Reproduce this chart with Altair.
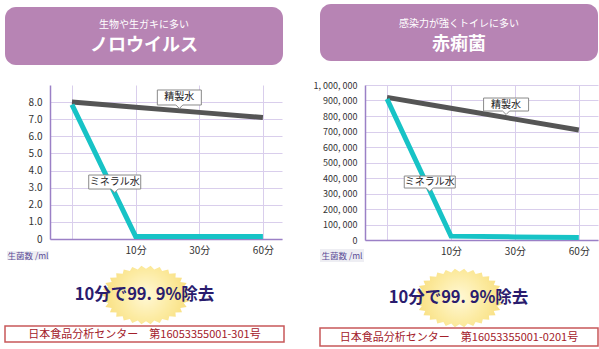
import json
import numpy as np
import pandas as pd
import altair as alt

# ---------------- data ----------------
x_pos = [0, 1, 2, 3]
x_labels = ["", "10分", "30分", "60分"]
series_names = ["精製水", "ミネラル水"]

noro_purified = [8.0, 7.7, 7.4, 7.1]
noro_mineral = [7.85, 0.15, 0.15, 0.15]
noro_y_ticks = [0, 1, 2, 3, 4, 5, 6, 7, 8]
noro_y_labels = ["0", "1.0", "2.0", "3.0", "4.0", "5.0", "6.0", "7.0", "8.0"]

shig_purified = [920000, 850000, 780000, 710000]
shig_mineral = [910000, 25000, 20000, 16000]
shig_y_ticks = [0, 100000, 200000, 300000, 400000, 500000,
                600000, 700000, 800000, 900000, 1000000]
shig_y_labels = ["0", "100, 000", "200, 000", "300, 000", "400, 000", "500, 000",
                 "600, 000", "700, 000", "800, 000", "900, 000", "1, 000, 000"]

noro_sub = "生物や生ガキに多い"
noro_title = "ノロウイルス"
shig_sub = "感染力が強くトイレに多い"
shig_title = "赤痢菌"
claim_text = "10分で99. 9%除去"
noro_cert = "日本食品分析センター　第16053355001-301号"
shig_cert = "日本食品分析センター　第16053355001-0201号"
unit_text = "生菌数 /ml"

# ---------------- style ----------------
FONT = "Noto Sans CJK JP"
HEADER = "#B784B4"
GRID = "#D9CEEC"
AXIS = "#9B80C6"
GRAY = "#555555"
CYAN = "#17C3C6"
NAVY = "#2A1C6E"
RED_BORDER = "#C8585A"
RED_TEXT = "#A3202A"


def callout_path(w, h):
    r = w / 2.0
    hh = h / 2.0 / r
    nw = 3.5 / r
    nd = 3.5 / r
    return (f"M-1,{-hh:.4f} L1,{-hh:.4f} L1,{hh:.4f} L{nw:.4f},{hh:.4f} "
            f"L0,{hh + nd:.4f} L{-nw:.4f},{hh:.4f} L-1,{hh:.4f} Z")


def star_path(n=30, inner=0.89, ratio=0.66):
    pts = []
    for k in range(2 * n):
        a = np.pi * k / n
        r = 1.0 if k % 2 == 0 else inner
        pts.append((r * np.cos(a), r * np.sin(a) * ratio))
    return "M" + " L".join(f"{x:.4f},{y:.4f}" for x, y in pts) + " Z"


STAR = star_path()
STAR_FILL = {"gradient": "radial", "x1": 0.5, "y1": 0.5, "r1": 0.0,
             "x2": 0.5, "y2": 0.5, "r2": 0.5,
             "stops": [{"offset": 0.0, "color": "#FFF8D6"},
                       {"offset": 0.55, "color": "#FCEBA2"},
                       {"offset": 1.0, "color": "#F8DE7E"}]}

one = pd.DataFrame({"k": [0]})


def label_expr(labels, ticks):
    return f"{json.dumps(labels, ensure_ascii=False)}[indexof({json.dumps(ticks)}, datum.value)]"


def make_panel(p):
    df = pd.DataFrame({
        "x": x_pos * 2,
        "value": p["purified"] + p["mineral"],
        "series": [series_names[0]] * 4 + [series_names[1]] * 4,
    })
    xscale = alt.Scale(domain=[-0.345, 3.3], nice=False, zero=False)
    yscale = alt.Scale(domain=p["ydomain"], nice=False, zero=True)
    x_axis = alt.Axis(values=x_pos, labelExpr=label_expr(x_labels, x_pos),
                      grid=True, gridColor=GRID, gridWidth=1, ticks=False,
                      domainColor=AXIS, domainWidth=1.5, labelPadding=6,
                      labelFontSize=10, labelColor="#333333", labelFont=FONT,
                      labelOverlap=False, title=None)
    y_axis = alt.Axis(values=p["yticks"], labelExpr=label_expr(p["ylabels"], p["yticks"]),
                      grid=True, gridColor=GRID, gridWidth=1, ticks=False,
                      domainColor=AXIS, domainWidth=1.5, labelPadding=8,
                      labelFontSize=p["ylabsize"], labelColor="#333333", labelFont=FONT,
                      labelOverlap=False, labelFlush=False, title=None)

    lines = alt.Chart(df).mark_line(strokeWidth=5, strokeCap="butt").encode(
        x=alt.X("x:Q", scale=xscale, axis=x_axis),
        y=alt.Y("value:Q", scale=yscale, axis=y_axis),
        color=alt.Color("series:N", scale=alt.Scale(domain=series_names, range=[GRAY, CYAN]),
                        legend=None),
    )

    hx0, hx1, hy0, hy1 = p["header"]
    header = alt.Chart(one).mark_rect(cornerRadius=11, color=HEADER).encode(
        x=alt.value(hx0), x2=alt.value(hx1), y=alt.value(hy0), y2=alt.value(hy1))
    hcx = (hx0 + hx1) / 2.0
    sub = alt.Chart(one).mark_text(font=FONT, fontSize=10, color="white",
                                   baseline="middle", align="center").encode(
        x=alt.value(hcx), y=alt.value(p["sub_y"]), text=alt.value(p["sub"]))
    title = alt.Chart(one).mark_text(font=FONT, fontSize=18, fontWeight="bold", color="white",
                                     baseline="middle", align="center").encode(
        x=alt.value(hcx), y=alt.value(p["title_y"]), text=alt.value(p["title"]))

    sx, sy = p["star"]
    star = alt.Chart(one).mark_point(shape=STAR, size=(2 * 44.5) ** 2, filled=True,
                                     fill=STAR_FILL, strokeWidth=0, opacity=1).encode(
        x=alt.value(sx), y=alt.value(sy))
    claim = alt.Chart(one).mark_text(font=FONT, fontSize=16.5, fontWeight="bold", color=NAVY,
                                     baseline="middle", align="center").encode(
        x=alt.value(p["claim"][0]), y=alt.value(p["claim"][1]), text=alt.value(claim_text))

    fx0, fx1, fy0, fy1 = p["footer"]
    footer = alt.Chart(one).mark_rect(fill="white", stroke=RED_BORDER, strokeWidth=1.5).encode(
        x=alt.value(fx0), x2=alt.value(fx1), y=alt.value(fy0), y2=alt.value(fy1))
    cert = alt.Chart(one).mark_text(font=FONT, fontSize=11, color=RED_TEXT,
                                    baseline="middle", align="center").encode(
        x=alt.value((fx0 + fx1) / 2.0), y=alt.value((fy0 + fy1) / 2.0 + 1),
        text=alt.value(p["cert"]))

    ux0, ux1, uy0, uy1 = p["unit"]
    unit_box = alt.Chart(one).mark_rect(color="#EEEEF3").encode(
        x=alt.value(ux0), x2=alt.value(ux1), y=alt.value(uy0), y2=alt.value(uy1))
    unit = alt.Chart(one).mark_text(font=FONT, fontSize=8.5, color="#5A4A96",
                                    baseline="middle", align="center").encode(
        x=alt.value((ux0 + ux1) / 2.0), y=alt.value((uy0 + uy1) / 2.0),
        text=alt.value(unit_text))

    layers = [header, sub, title, star, claim, footer, cert, unit_box, unit, lines]
    for name, (cx, cy), (w, h) in zip(series_names, p["callouts"], p["callout_sizes"]):
        cdf = pd.DataFrame({"x": [cx], "y": [cy], "t": [name]})
        box = alt.Chart(cdf).mark_point(shape=callout_path(w, h), size=w * w, filled=True,
                                        fill="white", stroke="#8A8A8A", strokeWidth=1,
                                        opacity=1).encode(
            x=alt.X("x:Q", scale=xscale, axis=x_axis),
            y=alt.Y("y:Q", scale=yscale, axis=y_axis))
        txt = alt.Chart(cdf).mark_text(font=FONT, fontSize=10, color="#222222",
                                       baseline="middle", align="center").encode(
            x=alt.X("x:Q", scale=xscale, axis=x_axis),
            y=alt.Y("y:Q", scale=yscale, axis=y_axis), text="t:N")
        layers += [box, txt]

    return alt.layer(*layers).properties(width=p["w"], height=p["h"])


left = make_panel(dict(
    purified=noro_purified, mineral=noro_mineral, ydomain=[0, 9],
    yticks=noro_y_ticks, ylabels=noro_y_labels, ylabsize=10,
    w=232, h=154,
    header=(-45, 233, -78, -20), sub_y=-60, title_y=-39, sub=noro_sub, title=noro_title,
    star=(96, 210), claim=(94.5, 210),
    footer=(-45, 234, 241, 257), cert=noro_cert,
    unit=(-43, -1, 166, 175),
    callouts=[(1.687, 8.27), (0.672, 3.33)],
    callout_sizes=[(44, 15), (52, 14)],
))

right = make_panel(dict(
    purified=shig_purified, mineral=shig_mineral, ydomain=[0, 1000000],
    yticks=shig_y_ticks, ylabels=shig_y_labels, ylabsize=9,
    w=233, h=155,
    header=(-45, 233, -81, -24), sub_y=-61, title_y=-40, sub=shig_sub, title=shig_title,
    star=(94.5, 213), claim=(93.5, 213),
    footer=(-45, 233, 243, 261), cert=shig_cert,
    unit=(-45, -1, 164, 177),
    callouts=[(1.862, 874000), (0.668, 374000)],
    callout_sizes=[(45, 13), (51, 12)],
))

chart = alt.hconcat(left, right, spacing=27).properties(
    padding={"left": 4, "top": 4, "right": 0, "bottom": 0},
    background="white",
).configure_view(strokeWidth=0).configure_text(font=FONT)

chart.save("out.html", embed_options={"renderer": "svg", "actions": False})
